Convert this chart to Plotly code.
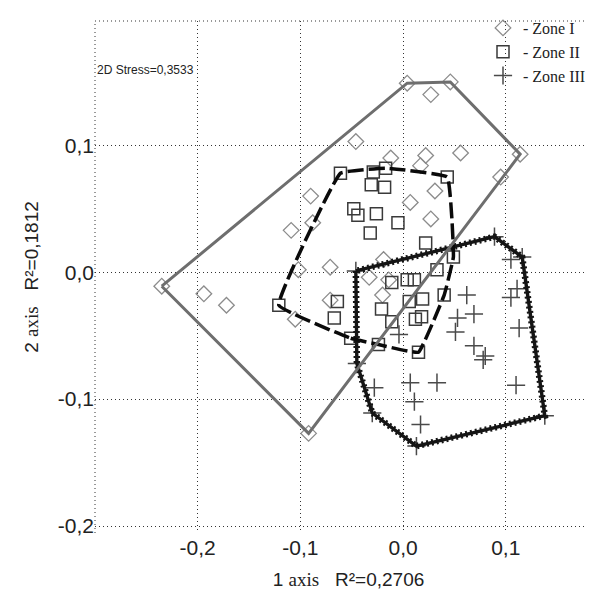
import plotly.graph_objects as go

# ---- data ----
zone1_x = [-0.235, -0.194, -0.172, -0.109, -0.090, -0.088, -0.102, -0.105, -0.092,
           -0.071, -0.071, -0.046, -0.012, 0.022, 0.017, 0.056, 0.095, 0.114,
           0.004, 0.027, 0.046, 0.031, 0.007, 0.027, -0.019, -0.033, -0.014, -0.020]
zone1_y = [-0.011, -0.017, -0.026, 0.033, 0.060, 0.039, 0.002, -0.037, -0.127,
           0.004, -0.022, 0.103, 0.090, 0.092, 0.084, 0.094, 0.075, 0.093,
           0.149, 0.140, 0.150, 0.064, 0.055, 0.042, 0.010, -0.004, -0.006, -0.018]

zone2_x = [-0.121, -0.061, -0.029, -0.017, -0.031, -0.018, 0.043, -0.048, -0.044,
           -0.026, -0.005, -0.032, 0.022, 0.049, 0.033, -0.011, 0.004, 0.011,
           0.040, 0.019, 0.006, -0.021, 0.018, 0.012, -0.011, -0.064, -0.067,
           -0.051, -0.024, 0.015]
zone2_y = [-0.026, 0.078, 0.079, 0.082, 0.069, 0.067, 0.075, 0.050, 0.045,
           0.046, 0.039, 0.031, 0.023, 0.012, 0.002, -0.008, -0.006, -0.006,
           -0.018, -0.021, -0.023, -0.029, -0.035, -0.037, -0.039, -0.023, -0.036,
           -0.052, -0.057, -0.063]

zone3_x = [-0.046, 0.089, 0.116, 0.105, 0.111, 0.105, 0.062, 0.069, 0.053,
           0.051, 0.069, 0.080, 0.078, 0.113, 0.110, 0.138, 0.007, 0.033,
           0.011, 0.017, 0.013, -0.004, -0.045, -0.028, -0.030]
zone3_y = [0.001, 0.028, 0.012, 0.010, -0.013, -0.020, -0.018, -0.033, -0.036,
           -0.047, -0.058, -0.066, -0.069, -0.044, -0.089, -0.113, -0.087, -0.087,
           -0.102, -0.120, -0.137, -0.049, -0.072, -0.091, -0.111]

x_ticks = [-0.2, -0.1, 0.0, 0.1]
x_tick_labels = ["-0,2", "-0,1", "0,0", "0,1"]
y_ticks = [-0.2, -0.1, 0.0, 0.1]
y_tick_labels = ["-0,2", "-0,1", "0,0", "0,1"]
zone_names = ["- Zone I", "- Zone II", "- Zone III"]
stress_text = "2D Stress=0,3533"
x_title = "1 <span style='font-family:Liberation Serif'>axis</span>   R²=0,2706"
y_title = "2 <span style='font-family:Liberation Serif'>axis</span>   R²=0,1812"


def convex_hull(xs, ys):
    pts = sorted(set(zip(xs, ys)))
    if len(pts) < 3:
        return pts

    def cross(o, a, b):
        return (a[0] - o[0]) * (b[1] - o[1]) - (a[1] - o[1]) * (b[0] - o[0])

    lower = []
    for p in pts:
        while len(lower) >= 2 and cross(lower[-2], lower[-1], p) <= 0:
            lower.pop()
        lower.append(p)
    upper = []
    for p in reversed(pts):
        while len(upper) >= 2 and cross(upper[-2], upper[-1], p) <= 0:
            upper.pop()
        upper.append(p)
    hull = lower[:-1] + upper[:-1]
    hull.append(hull[0])
    return hull


fig = go.Figure()

SANS = "Liberation Sans, Arial, sans-serif"
SERIF = "Liberation Serif, Times New Roman, serif"

# markers
fig.add_trace(go.Scatter(x=zone1_x, y=zone1_y, mode="markers", name=zone_names[0],
                         marker=dict(symbol="diamond-open", size=12, color="#8c8c8c",
                                     line=dict(width=1.3, color="#8c8c8c"))))
fig.add_trace(go.Scatter(x=zone2_x, y=zone2_y, mode="markers", name=zone_names[1],
                         marker=dict(symbol="square-open", size=12, color="#3a3a3a",
                                     line=dict(width=1.5, color="#3a3a3a"))))
fig.add_trace(go.Scatter(x=zone3_x, y=zone3_y, mode="markers", name=zone_names[2],
                         marker=dict(symbol="cross-thin-open", size=13, color="#4a4a4a",
                                     line=dict(width=1.5, color="#4a4a4a"))))

# hulls
h3 = convex_hull(zone3_x, zone3_y)
fig.add_trace(go.Scatter(x=[p[0] for p in h3], y=[p[1] for p in h3], mode="lines",
                         showlegend=False, hoverinfo="skip",
                         line=dict(color="#151515", width=3.4)))
fig.add_trace(go.Scatter(x=[p[0] for p in h3], y=[p[1] for p in h3], mode="lines",
                         showlegend=False, hoverinfo="skip",
                         line=dict(color="#151515", width=6.5, dash="2px,3px")))

h2 = convex_hull(zone2_x, zone2_y)
fig.add_trace(go.Scatter(x=[p[0] for p in h2], y=[p[1] for p in h2], mode="lines",
                         showlegend=False, hoverinfo="skip",
                         line=dict(color="#0a0a0a", width=3.5, dash="16px,5px",
                                   shape="spline", smoothing=0.25)))

h1 = convex_hull(zone1_x, zone1_y)
fig.add_trace(go.Scatter(x=[p[0] for p in h1], y=[p[1] for p in h1], mode="lines",
                         showlegend=False, hoverinfo="skip",
                         line=dict(color="#6e6e6e", width=3)))

fig.add_annotation(text=stress_text, xref="paper", yref="y", x=0.0, y=0.159,
                   xanchor="left", yanchor="middle", showarrow=False,
                   font=dict(family=SANS, size=12, color="#222"))

# dotted frame (left & top)
fig.add_shape(type="line", xref="paper", yref="paper", x0=0, x1=0, y0=0, y1=1,
              line=dict(color="#333", width=1, dash="1px,3px"))
fig.add_shape(type="line", xref="paper", yref="paper", x0=0, x1=1, y0=1, y1=1,
              line=dict(color="#333", width=1, dash="1px,3px"))

fig.update_layout(
    width=594, height=592,
    margin=dict(l=87, r=0, t=13, b=67, autoexpand=False),
    paper_bgcolor="white", plot_bgcolor="white",
    showlegend=True,
    legend=dict(x=(475 - 87) / 507, y=1.0 + 10 / 512, xanchor="left", yanchor="top",
                bgcolor="rgba(0,0,0,0)", borderwidth=0, itemwidth=30,
                font=dict(family=SERIF, size=16, color="#222"),
                tracegroupgap=0),
    xaxis=dict(range=[-0.3, 0.1937], tickvals=x_ticks, ticktext=x_tick_labels,
               showgrid=True, gridcolor="#333", griddash="1px,3px", gridwidth=1,
               zeroline=False, showline=False, ticks="",
               tickfont=dict(family=SANS, size=21, color="#222"),
               title=dict(text=x_title, standoff=14,
                          font=dict(family=SANS, size=19, color="#222"))),
    yaxis=dict(range=[-0.2055, 0.198], tickvals=y_ticks, ticktext=y_tick_labels,
               showgrid=True, gridcolor="#333", griddash="1px,3px", gridwidth=1,
               zeroline=False, showline=False, ticks="",
               tickfont=dict(family=SANS, size=21, color="#222"),
               title=dict(text=y_title, standoff=14,
                          font=dict(family=SANS, size=19, color="#222"))),
)

fig.write_html("out.html")
